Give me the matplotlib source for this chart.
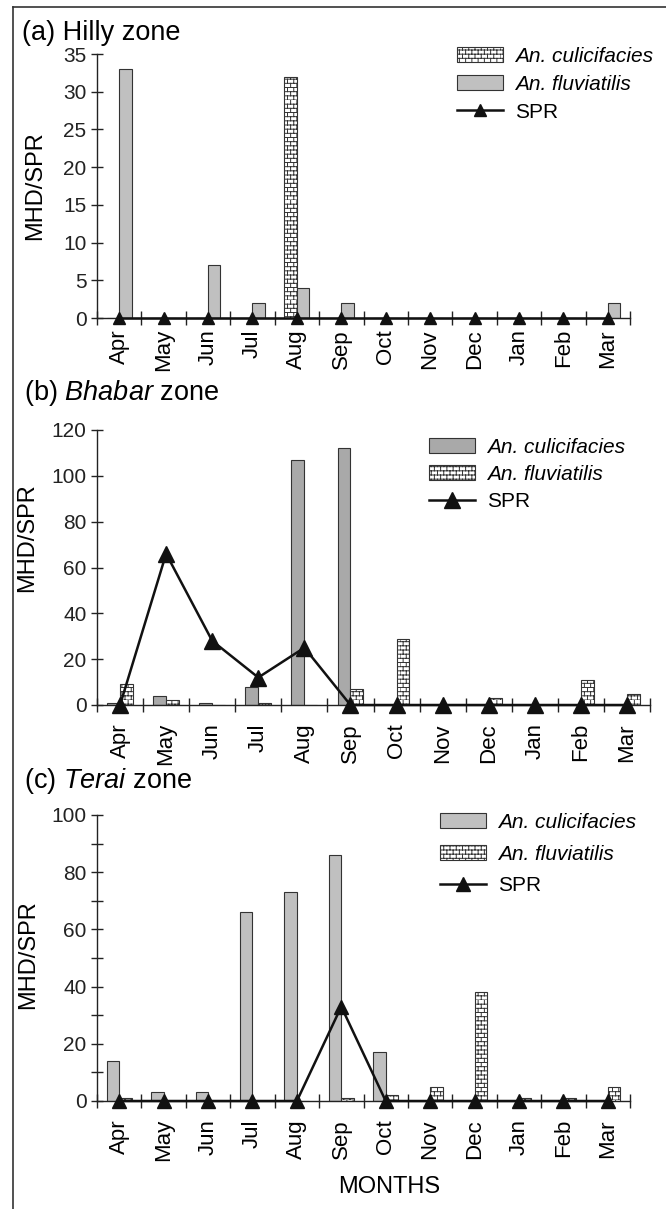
import matplotlib
matplotlib.use('Agg')
import matplotlib.pyplot as plt
import matplotlib.hatch as mhatch
from matplotlib.patches import Patch
from matplotlib.lines import Line2D
from matplotlib.path import Path
import numpy as np

plt.rcParams['font.family'] = ['Liberation Sans', 'DejaVu Sans']
plt.rcParams['mathtext.fontset'] = 'custom'
plt.rcParams['mathtext.rm'] = 'Liberation Sans'
plt.rcParams['mathtext.it'] = 'Liberation Sans:italic'
plt.rcParams['hatch.linewidth'] = 0.7


class BrickHatch(mhatch.HatchPatternBase):
    """Brick-wall hatch, triggered by the 'o' character."""
    def __init__(self, hatch, density):
        n = hatch.count('o')
        self.rows = 24 * n
        self.cols = 16 * n
        if n:
            self.num_vertices = 2 * (self.rows + self.rows * self.cols)
        else:
            self.num_vertices = 0

    def set_vertices_and_codes(self, vertices, codes):
        k = 0
        for i in range(self.rows):
            y0 = i / self.rows
            y1 = (i + 1) / self.rows
            vertices[k] = (0.0, y0)
            vertices[k + 1] = (1.0, y0)
            codes[k] = Path.MOVETO
            codes[k + 1] = Path.LINETO
            k += 2
            off = 0.5 / self.cols if i % 2 else 0.0
            for j in range(self.cols):
                xx = j / self.cols + off
                vertices[k] = (xx, y0)
                vertices[k + 1] = (xx, y1)
                codes[k] = Path.MOVETO
                codes[k + 1] = Path.LINETO
                k += 2


mhatch._hatch_types = [BrickHatch]

months = ['Apr', 'May', 'Jun', 'Jul', 'Aug', 'Sep', 'Oct', 'Nov', 'Dec', 'Jan', 'Feb', 'Mar']

hilly_culicifacies = [0, 0, 0, 0, 32, 0, 0, 0, 0, 0, 0, 0]
hilly_fluviatilis = [33, 0, 7, 2, 4, 2, 0, 0, 0, 0, 0, 2]
hilly_spr = [0, 0, 0, 0, 0, 0, 0, 0, 0, 0, 0, 0]

bhabar_culicifacies = [1, 4, 1, 8, 107, 112, 0, 0, 0, 0, 0, 0]
bhabar_fluviatilis = [9, 2, 0, 1, 0, 7, 29, 0, 3, 0, 11, 5]
bhabar_spr = [0, 66, 28, 12, 25, 0, 0, 0, 0, 0, 0, 0]

terai_culicifacies = [14, 3, 3, 66, 73, 86, 17, 0, 0, 0, 0, 0]
terai_fluviatilis = [1, 0, 0, 0, 0, 1, 2, 5, 38, 1, 1, 5]
terai_spr = [0, 0, 0, 0, 0, 33, 0, 0, 0, 0, 0, 0]

W, H = 666, 1209
fig = plt.figure(figsize=(W / 100, H / 100), dpi=100)


def rect_px(left, right, top, bottom):
    return [left / W, 1 - bottom / H, (right - left) / W, (bottom - top) / H]


HATCH = 'o'
GRAY_A = '#c0c0c0'
GRAY_B = '#a9a9a9'
EDGE = '#333333'


def panel(rect, cul, flu, spr, ymax, yticks, yminor, cul_hatched, gray,
          title, title_xy, ylab_xy, leg_xy, leg_spacing, ms, xpad):
    ax = fig.add_axes(rect)
    x = np.arange(len(months))
    w = 0.28
    hatched = dict(facecolor='white', edgecolor=EDGE, hatch=HATCH, linewidth=0.8)
    solid = dict(facecolor=gray, edgecolor=EDGE, linewidth=0.8)
    cul_style = hatched if cul_hatched else solid
    flu_style = solid if cul_hatched else hatched
    ax.bar(x, cul, width=-w, align='edge', zorder=2, **cul_style)
    ax.bar(x, flu, width=w, align='edge', zorder=2, **flu_style)
    h_cul = Patch(**cul_style)
    h_flu = Patch(**flu_style)
    ax.plot(x, spr, color='#111111', lw=1.8, marker='^', ms=ms,
            clip_on=False, zorder=5)
    h_spr = Line2D([], [], color='#111111', lw=1.8, marker='^', ms=ms)

    ax.set_xlim(-0.5, len(months) - 0.5)
    ax.set_ylim(0, ymax)
    for s in ['top', 'right']:
        ax.spines[s].set_visible(False)
    for s in ['left', 'bottom']:
        ax.spines[s].set_linewidth(1.0)
        ax.spines[s].set_color('#222222')

    ax.set_yticks(yticks)
    if yminor:
        ax.set_yticks(yminor, minor=True)
    ax.tick_params(axis='y', which='both', direction='inout', length=9,
                   width=1, labelsize=15, pad=3, colors='#222222')
    ax.set_xticks(np.arange(-0.5, len(months), 1))
    ax.set_xticklabels([])
    ax.set_xticks(x, minor=True)
    ax.set_xticklabels(months, minor=True, rotation=90, fontsize=16)
    ax.tick_params(axis='x', which='major', direction='inout', length=10,
                   width=1, colors='#222222')
    ax.tick_params(axis='x', which='minor', length=0, pad=xpad)

    fig.text(title_xy[0] / W, 1 - title_xy[1] / H, title, fontsize=19.5,
             ha='left', va='center')
    fig.text(ylab_xy[0] / W, 1 - ylab_xy[1] / H, 'MHD/SPR', fontsize=17,
             rotation=90, ha='center', va='center')

    leg = ax.legend([h_cul, h_flu, h_spr],
                    ['An. culicifacies', 'An. fluviatilis', 'SPR'],
                    loc='upper left',
                    bbox_to_anchor=(leg_xy[0] / W, 1 - leg_xy[1] / H),
                    bbox_transform=fig.transFigure, frameon=False,
                    fontsize=15, handlelength=2.2, handleheight=0.7,
                    handletextpad=0.6, labelspacing=leg_spacing,
                    borderpad=0, borderaxespad=0)
    texts = leg.get_texts()
    texts[0].set_fontstyle('italic')
    texts[1].set_fontstyle('italic')
    return ax


panel(rect_px(97, 630, 54, 318), hilly_culicifacies, hilly_fluviatilis,
      hilly_spr, 35, [0, 5, 10, 15, 20, 25, 30, 35], None, True, GRAY_A,
      '(a) Hilly zone', (22, 33), (35, 186), (457, 47), 0.42, 8, 8)

panel(rect_px(97, 650, 430, 705), bhabar_culicifacies, bhabar_fluviatilis,
      bhabar_spr, 120, [0, 20, 40, 60, 80, 100, 120], None, False, GRAY_B,
      r'(b) $\mathit{Bhabar}$ zone', (24, 393), (27, 538), (429, 438), 0.38, 11, 13)

panel(rect_px(97, 630, 815, 1101), terai_culicifacies, terai_fluviatilis,
      terai_spr, 100, [0, 20, 40, 60, 80, 100], [10, 30, 50, 70, 90], False,
      GRAY_A, r'(c) $\mathit{Terai}$ zone', (24, 781), (28, 955), (440, 813),
      0.6, 10, 13)

fig.text(389 / W, 1 - 1187 / H, 'MONTHS', fontsize=17, ha='center', va='center')

fig.add_artist(Line2D([13 / W, 13 / W], [1 - 7 / H, 0], color='#333333',
                      lw=1.2, transform=fig.transFigure))
fig.add_artist(Line2D([13 / W, 1], [1 - 7 / H, 1 - 7 / H], color='#333333',
                      lw=1.2, transform=fig.transFigure))

fig.savefig('out.png', dpi=100)
